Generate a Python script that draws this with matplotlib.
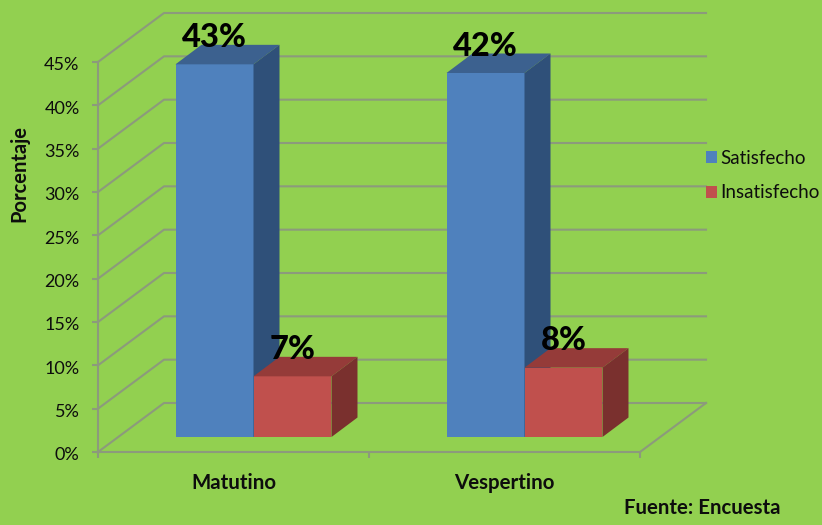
import matplotlib
matplotlib.use('Agg')
import matplotlib.pyplot as plt
from matplotlib.patches import Polygon
from matplotlib.transforms import Affine2D

plt.rcParams['font.family'] = ['Lato', 'DejaVu Sans']

turnos = ['Matutino', 'Vespertino']
satisfecho = [43, 42]
insatisfecho = [7, 8]
yticks = [0, 5, 10, 15, 20, 25, 30, 35, 40, 45]

W, H = 822, 525
BG = '#92D050'
GRID = '#8C9A7C'
TXT = '#0D0D0D'


def DrawBar3D( ax, xl, w, val, cFront, cTop, cSide, label ) :

    # front face is shifted into the floor, the top and side go to the back
    ax.bar( xl, val, w, align='edge', color=cFront, label=label, zorder=3,
            clip_on=False, transform=ax.transData + front )
    for pts, col in (
        ( [ (xl, val), (xl+w, val) ], cTop ),
        ( [ (xl+w, 0), (xl+w, val) ], cSide ) ) :
        a = ax.transData.transform( pts[0] ) + [ f_dx, f_dy ]
        b = ax.transData.transform( pts[1] ) + [ f_dx, f_dy ]
        poly = [ a, b, b + [ b_dx, b_dy ], a + [ b_dx, b_dy ] ]
        ax.add_patch( Polygon( poly, closed=True, fc=col, ec='none', zorder=3,
                               transform=None, clip_on=False ) )


fig = plt.figure( figsize=(W/100, H/100), dpi=100, facecolor=BG )
ax = fig.add_axes( [98/W, 1-452/H, (640-98)/W, (452-62)/H] )
ax.set_facecolor( 'none' )
ax.set_xlim( 0, 2 )
ax.set_ylim( 0, 45 )
fig.canvas.draw()

# 3D look, offsets in pixels
wall_dx, wall_dy = 66, 49
f_dx, f_dy = 20, 15
b_dx, b_dy = 26, 19.5
front = Affine2D().translate( f_dx, f_dy )

# back wall and side wall grid lines
for v in yticks :
    p = ax.transData.transform( (0, v) )
    q = ax.transData.transform( (2, v) )
    xs = [ p[0], p[0]+wall_dx, q[0]+wall_dx ]
    ys = [ p[1], p[1]+wall_dy, q[1]+wall_dy ]
    ax.plot( xs, ys, color=GRID, lw=1.5, transform=None, clip_on=False, zorder=1 )
p = ax.transData.transform( (2, 0) )
ax.plot( [p[0], p[0]+wall_dx], [p[1], p[1]+wall_dy], color=GRID, lw=1.5,
         transform=None, clip_on=False, zorder=1 )

# bars
bw = 0.2878
for i in range( len(turnos) ) :
    c = i + 0.5
    lab1 = 'Satisfecho' if i == 0 else None
    lab2 = 'Insatisfecho' if i == 0 else None
    DrawBar3D( ax, c-bw, bw, satisfecho[i], '#4F81BD', '#3C618F', '#2F5079', lab1 )
    DrawBar3D( ax, c, bw, insatisfecho[i], '#C0504D', '#953B39', '#7A302E', lab2 )

    # value labels over the bars
    for xc, val in ( (c-bw/2, satisfecho[i]), (c+bw/2, insatisfecho[i]) ) :
        ax.annotate( '%d%%' % val, (xc, val), xytext=(f_dx*0.72, f_dy*0.72+19.3),
                     textcoords='offset points', ha='center', va='center',
                     fontsize=23.5, fontweight='black', color='black', zorder=5,
                     annotation_clip=False )

# axes
for s in ['top', 'right'] :
    ax.spines[s].set_visible( False )
for s in ['left', 'bottom'] :
    ax.spines[s].set_color( GRID )
    ax.spines[s].set_linewidth( 1.5 )
    ax.spines[s].set_zorder( 2 )
ax.set_yticks( yticks )
ax.set_yticklabels( ['%d%%' % v for v in yticks], fontsize=13, color=TXT )
ax.set_xticks( [0, 1, 2] )
ax.set_xticklabels( [] )
ax.tick_params( axis='both', color=GRID, width=1.5, length=4.3, pad=9 )
ax.tick_params( axis='x', pad=0 )
for lb in ax.get_yticklabels() :
    lb.set_transform( lb.get_transform() + Affine2D().translate( 0, -2 ) )

for i in range( len(turnos) ) :
    ax.annotate( turnos[i], (i+0.5, 0), xytext=(0, -22), textcoords='offset points',
                 ha='center', va='center', fontsize=14.8, fontweight='bold', color=TXT,
                 annotation_clip=False )

fig.text( 19/W, 1-173/H, 'Porcentaje', rotation=90, ha='center', va='center',
          fontsize=14.5, fontweight='bold', color=TXT )
fig.text( 624/W, 1-508/H, 'Fuente: Encuesta', ha='left', va='center',
          fontsize=14.7, fontweight='bold', color=TXT )

leg = fig.legend( loc='upper left', bbox_to_anchor=(706/W, 1-149.5/H), frameon=False,
                  fontsize=13.5, handlelength=0.6, handleheight=0.6, handletextpad=0.14,
                  labelspacing=0.95, borderpad=0, borderaxespad=0 )
for t in leg.get_texts() :
    t.set_color( TXT )

fig.savefig( 'out.png', dpi=100, facecolor=BG )
